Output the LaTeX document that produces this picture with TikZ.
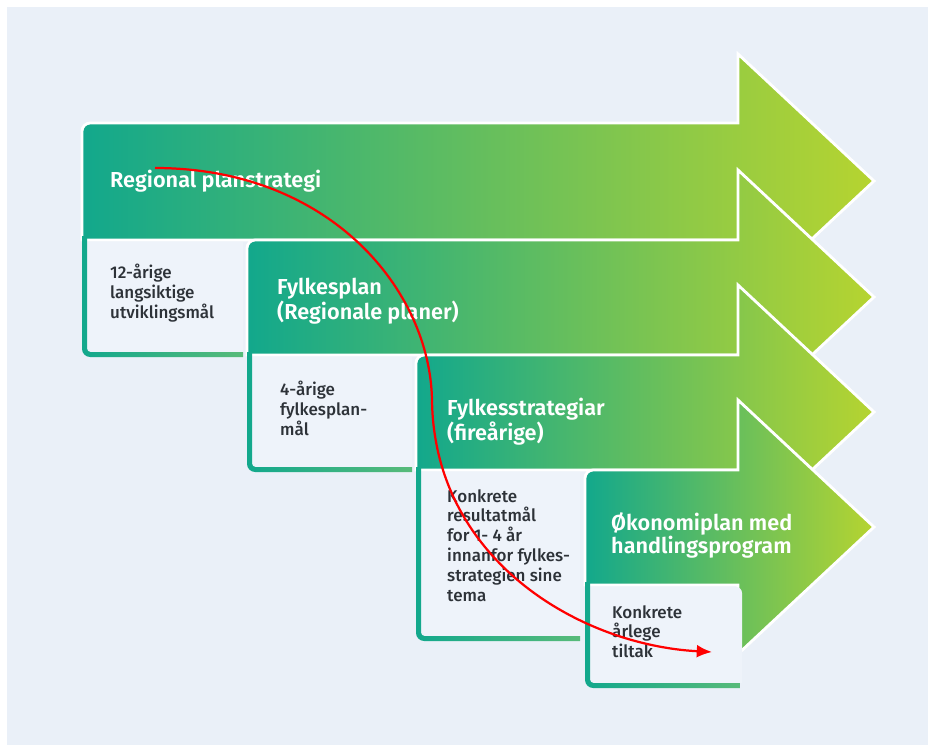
\documentclass[tikz,border=0pt]{standalone}
\usepackage{fontspec}
\setmainfont{Fira Sans}
\newfontfamily\headfont{Fira Sans SemiBold}
\newfontfamily\bodyfont{Fira Sans Medium}
\usepackage{tikz}
\definecolor{pagebg}{RGB}{234,240,248}
\definecolor{boxbg}{RGB}{238,243,250}
\definecolor{tealgreen}{RGB}{18,168,140}
\definecolor{midgreen}{RGB}{100,190,118}
\definecolor{limegreen}{RGB}{182,212,48}
\definecolor{textgray}{RGB}{45,50,56}
\usetikzlibrary{arrows.meta}

\tikzset{
	planarrow/.style={left color=tealgreen, middle color=midgreen, right color=limegreen, draw=white, line width=2.4pt},
	boxframe/.style={left color=tealgreen, right color=midgreen!85!tealgreen},
	headtext/.style={anchor=north west, inner sep=0pt, align=left, text=white, font=\headfont\fontsize{18.5}{19.6}\selectfont},
	bodytext/.style={anchor=north west, inner sep=0pt, align=left, text=textgray, font=\bodyfont\fontsize{14.5}{17}\selectfont}
}

\begin{document}
\begin{tikzpicture}[x=0.03cm, y=-0.03cm]
	\useasboundingbox (0,0) rectangle (934,745);
	\fill[white] (0,0) rectangle (934,745);
	\fill[pagebg] (7,7) rectangle (928,745);
	
	% 1
	\shadedraw[planarrow] (82,240) [rounded corners=7pt] -- (82,123) [sharp corners] -- (738,123) -- (738,54) -- (874,181) -- (738,308) -- (738,240) -- cycle;
	\fill[boxbg] (87,242) rectangle (243,352);
	\shade[boxframe] (82,236) [rounded corners=7pt] -- (82,357) [sharp corners] -- (243,357) -- (243,352) [rounded corners=3pt] -- (87,352) [sharp corners] -- (87,236) -- cycle;
	\node[headtext] (plan1) at (110,170) {Regional planstrategi};
	\node[bodytext] (goal1) at (110,264) {12-årige\\langsiktige\\utviklingsmål};
	
	% 2
	\shadedraw[planarrow] (247,355) [rounded corners=7pt] -- (247,240) [sharp corners] -- (738,240) -- (738,170) -- (874,297) -- (738,424) -- (738,355) -- cycle;
	\fill[boxbg] (252,357) rectangle (412,467);
	\shade[boxframe] (247,352) [rounded corners=7pt] -- (247,472) [sharp corners] -- (412,472) -- (412,467) [rounded corners=3pt] -- (252,467) [sharp corners] -- (252,352) -- cycle;
	\node[headtext] (plan2) at (277,278) {Fylkesplan\\(Regionale planer)};
	\node[bodytext] (goal2) at (280,381) {4-årige\\fylkesplan-\\mål};
	
	% 3
	\shadedraw[planarrow] (416,470) [rounded corners=7pt] -- (416,355) [sharp corners] -- (738,355) -- (738,285) -- (874,412) -- (738,539) -- (738,470) -- cycle;
	\fill[boxbg] (421,472) rectangle (580,636);
	\shade[boxframe] (416,467) [rounded corners=7pt] -- (416,641) [sharp corners] -- (580,641) -- (580,636) [rounded corners=3pt] -- (421,636) [sharp corners] -- (421,467) -- cycle;
	\node[headtext] (plan3) at (447,398) {Fylkesstrategiar\\(fireårige)};
	\node[bodytext] (goal3) at (447,489) {Konkrete\\resultatmål\\for 1- 4 år\\innanfor fylkes-\\strategien sine\\tema};
	
	% 4
	\shadedraw[planarrow] (585,585) [rounded corners=7pt] -- (585,470) [sharp corners] -- (738,470) -- (738,400) -- (874,527) -- (738,654) -- (738,585) -- cycle;
	\fill[boxbg] (590,587) [rounded corners=5pt] -- (742,587) [sharp corners] -- (742,683) -- (590,683) -- cycle;
	\shade[boxframe] (585,582) [rounded corners=7pt] -- (585,688) [sharp corners] -- (740,688) -- (740,683) [rounded corners=3pt] -- (590,683) [sharp corners] -- (590,582) -- cycle;
	\node[headtext] (plan4) at (611,512) {Økonomiplan med\\handlingsprogram};
	\node[bodytext] (goal4) at (612,605) {Konkrete\\årlege\\tiltak};
	
	\coordinate (flowstart) at (155,168);
	\coordinate (flowturn) at (432,400);
	\coordinate (flowend) at (712,652);
	\draw[red, line width=1.9pt, -{Latex[length=13pt, width=11pt]}] (flowstart) .. controls (330,168) and (430,290) .. (flowturn) .. controls (434,560) and (580,645) .. (flowend);
\end{tikzpicture}
\end{document}
